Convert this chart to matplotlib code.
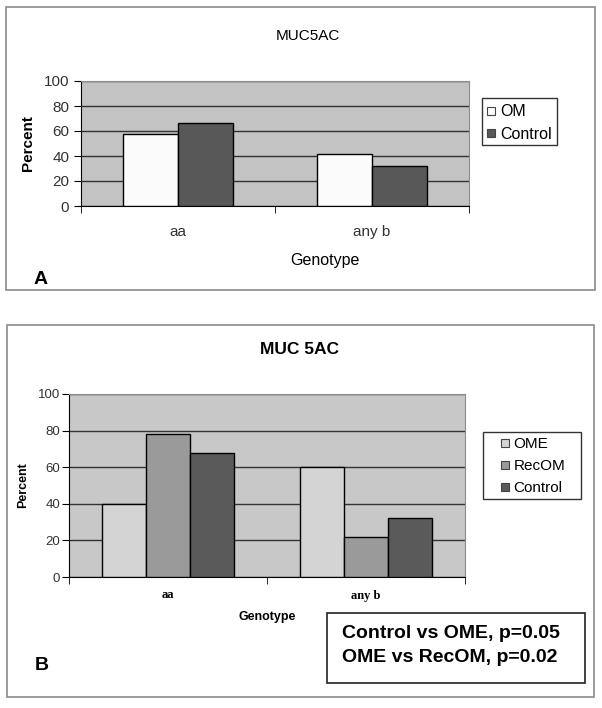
import matplotlib.pyplot as plt
from matplotlib.patches import Rectangle
from matplotlib.lines import Line2D
import numpy as np

plt.rcParams['font.family'] = ['Liberation Sans', 'DejaVu Sans']

# panel A data
genotypes = ['aa', 'any b']
a_series = ['OM', 'Control']
a_values = [[57.5, 41.6], [66.7, 32.3]]
a_colors = ['#fbfbfb', '#585858']

# panel B data
b_series = ['OME', 'RecOM', 'Control']
b_values = [[40, 60], [78, 22], [67.5, 32.5]]
b_colors = ['#d4d4d4', '#9a9a9a', '#5a5a5a']

W, H = 602, 708


def rect(x0, y0, x1, y1):
    # pixel box (top-left origin) -> figure fraction
    return [x0 / W, 1 - y1 / H, (x1 - x0) / W, (y1 - y0) / H]


def frame(fig, box, ec, lw, fc='none'):
    r = rect(*box)
    fig.patches.append(Rectangle((r[0], r[1]), r[2], r[3], transform=fig.transFigure,
                                 facecolor=fc, edgecolor=ec, linewidth=lw))


def grouped_bars(ax, values, colors, labels):
    n = len(values)
    width = 1.0 / (n + 1.5)
    x = np.arange(len(genotypes))
    for i, vals in enumerate(values):
        off = (i - (n - 1) / 2) * width
        ax.bar(x + off, vals, width, color=colors[i], edgecolor='black',
               linewidth=1.0, label=labels[i], zorder=3)
    ax.set_xlim(-0.5, len(genotypes) - 0.5)
    ax.set_ylim(0, 100)
    ax.set_yticks(range(0, 101, 20))
    ax.grid(axis='y', color='#333333', linewidth=1.0, zorder=1)
    ax.set_xticks(x)
    ax.set_xticks([-0.5, 0.5, 1.5], minor=True)
    ax.tick_params(axis='x', which='major', length=0)
    ax.tick_params(axis='x', which='minor', length=5, direction='out')
    ax.tick_params(axis='y', length=5, direction='out')
    for s in ['top', 'right']:
        ax.spines[s].set_color('#8c8c8c')


def square_handles(colors):
    return [Line2D([], [], linestyle='none', marker='s', markersize=6,
                   markerfacecolor=c, markeredgecolor='#444444', markeredgewidth=0.8)
            for c in colors]


fig = plt.figure(figsize=(W / 100, H / 100), dpi=100)

# outer panel frames
frame(fig, (6, 7, 595, 290), '#8a8a8a', 1.2)
frame(fig, (7, 325, 594, 697), '#8a8a8a', 1.2)

# ---- panel A ----
axA = fig.add_axes(rect(81, 81, 469, 206))
axA.set_facecolor('#c3c3c3')
grouped_bars(axA, a_values, a_colors, a_series)
axA.set_xticklabels(genotypes, fontsize=11, color='#333333')
axA.tick_params(axis='y', labelsize=11, labelcolor='#333333')
axA.tick_params(axis='x', which='major', pad=14)
axA.set_ylabel('Percent', fontsize=11, fontweight='bold', labelpad=6)
fig.text(308 / W, 1 - 36 / H, 'MUC5AC', ha='center', va='center', fontsize=11)
fig.text(325 / W, 1 - 261 / H, 'Genotype', ha='center', va='center', fontsize=11.5)
fig.text(41 / W, 1 - 280 / H, 'A', ha='center', va='center', fontsize=14, fontweight='bold')
frame(fig, (482, 98, 557, 145), '#333333', 1.0, fc='white')
fig.legend(handles=square_handles(a_colors), labels=a_series, loc='upper left',
           bbox_to_anchor=(486 / W, 1 - 104.5 / H), fontsize=11.5, frameon=False,
           borderaxespad=0, borderpad=0, handlelength=0.6, handletextpad=0.3,
           labelspacing=0.45)

# ---- panel B ----
axB = fig.add_axes(rect(69, 394, 465, 577))
axB.set_facecolor('#c8c8c8')
grouped_bars(axB, b_values, b_colors, b_series)
axB.set_xticklabels(genotypes, fontsize=9, fontweight='bold', family='Liberation Serif')
axB.tick_params(axis='x', which='major', pad=9)
axB.tick_params(axis='y', labelsize=9.5, labelcolor='#333333', pad=1.5)
axB.set_ylabel('Percent', fontsize=9, fontweight='bold', labelpad=6)
fig.text(300 / W, 1 - 349 / H, 'MUC 5AC', ha='center', va='center', fontsize=12.5, fontweight='bold')
fig.text(267 / W, 1 - 617 / H, 'Genotype', ha='center', va='center', fontsize=9, fontweight='bold')
fig.text(42 / W, 1 - 665 / H, 'B', ha='center', va='center', fontsize=14, fontweight='bold')
frame(fig, (483, 432, 581, 499), '#333333', 1.0, fc='white')
fig.legend(handles=square_handles(b_colors), labels=b_series, loc='upper left',
           bbox_to_anchor=(500 / W, 1 - 437.5 / H), fontsize=11, frameon=False,
           borderaxespad=0, borderpad=0, handlelength=0.6, handletextpad=0.3,
           labelspacing=0.52)

# stats box
frame(fig, (327, 613, 585, 683), '#222222', 1.2, fc='white')
fig.text(342 / W, 1 - 633 / H, 'Control vs OME, p=0.05', ha='left', va='center',
         fontsize=14, fontweight='bold')
fig.text(342 / W, 1 - 658 / H, 'OME vs RecOM, p=0.02', ha='left', va='center',
         fontsize=14, fontweight='bold')

fig.savefig('out.png', dpi=100)
